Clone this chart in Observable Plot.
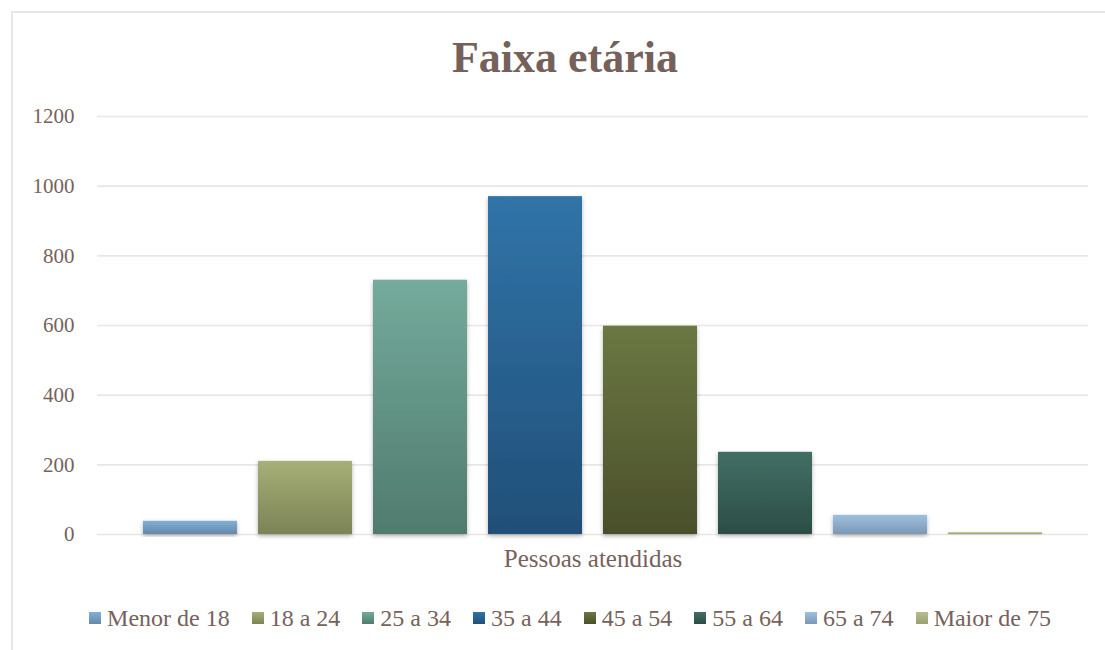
<!DOCTYPE html>
<html>
<head>
<meta charset="utf-8">
<script src="https://cdn.jsdelivr.net/npm/d3@7"></script>
<script src="https://cdn.jsdelivr.net/npm/@observablehq/plot@0.6"></script>
<style>
  html, body { margin: 0; padding: 0; background: #fff; }
  #wrap { position: relative; width: 1105px; height: 650px; overflow: hidden; }
  #frame { position: absolute; left: 11px; top: 11px; width: 1200px; height: 700px;
           border-left: 2px solid #ebe6e4; border-top: 2px solid #e6e6e6; }
  #title { position: absolute; left: 0; top: 36px; width: 1130px; text-align: center;
           font-family: "Liberation Serif", serif; font-weight: bold; font-size: 44px;
           line-height: 44px; color: #76605a; }
  #chart { position: absolute; left: 0; top: 0; }
  #legend { position: absolute; left: 0; top: 604px; width: 1140px; display: flex;
            justify-content: center; align-items: center; gap: 22px;
            font-family: "Liberation Serif", serif; font-size: 24px; color: #76625b; line-height: 28px; }
  .item { display: flex; align-items: center; gap: 6px; }
  .sw { width: 12px; height: 12px; }
</style>
</head>
<body>
<div id="wrap">
  <div id="frame"></div>
  <div id="chart"></div>
  <div id="title">Faixa etária</div>
  <div id="legend"></div>
</div>
<script>
const categories = ["Menor de 18", "18 a 24", "25 a 34", "35 a 44", "45 a 54", "55 a 64", "65 a 74", "Maior de 75"];
const values = [38, 210, 730, 970, 598, 236, 55, 5];
const groupLabel = ["Pessoas atendidas"];
const yTicks = [0, 200, 400, 600, 800, 1000, 1200];
const topColors = ["#80b0d6", "#a6af77", "#74ab9c", "#3074a8", "#6b7843", "#426f64", "#9dc0df", "#b7be8b"];
const bottomColors = ["#6688a8", "#7c8357", "#507b6e", "#214f78", "#4a4f2a", "#2c4d45", "#7c98b4", "#9aa070"];

const data = categories.map((c, i) => ({cat: c, value: values[i]}));
const textColor = "#76625b";
const serif = "'Liberation Serif', serif";

const plot = Plot.plot({
  width: 1105,
  height: 650,
  marginTop: 116,
  marginBottom: 116,
  marginLeft: 97,
  marginRight: 17,
  style: {background: "transparent", fontFamily: serif},
  x: {domain: categories, range: [132, 1054], paddingInner: 0.18, paddingOuter: 0.09, axis: null},
  y: {domain: [0, 1200], axis: null},
  color: {domain: categories, range: categories.map((_, i) => `url(#grad${i})`)},
  marks: [
    Plot.ruleY(yTicks, {stroke: "#ebe6e3", strokeWidth: 1.6}),
    Plot.axisY(yTicks, {tickSize: 0, tickPadding: 23, fontSize: 21, fill: textColor, label: null, tickFormat: d => String(d)}),
    Plot.barY(data, {x: "cat", y: "value", fill: "cat"}),
    Plot.text(groupLabel, {frameAnchor: "bottom", dy: 32, fontSize: 25, fill: textColor})
  ]
});

const svg = d3.select(plot);
svg.selectAll("text").style("font-family", serif);
const defs = svg.insert("defs", ":first-child");
categories.forEach((c, i) => {
  const g = defs.append("linearGradient").attr("id", `grad${i}`)
    .attr("x1", 0).attr("y1", 0).attr("x2", 0).attr("y2", 1);
  g.append("stop").attr("offset", "0%").attr("stop-color", topColors[i]);
  g.append("stop").attr("offset", "100%").attr("stop-color", bottomColors[i]);
});
const f = defs.append("filter").attr("id", "shadow").attr("x", "-20%").attr("y", "-20%").attr("width", "140%").attr("height", "140%");
f.append("feDropShadow").attr("dx", 0).attr("dy", 2).attr("stdDeviation", 2.2).attr("flood-color", "#000").attr("flood-opacity", 0.3);
svg.selectAll("g[aria-label=bar] rect").attr("filter", "url(#shadow)");

document.getElementById("chart").appendChild(plot);

const legend = d3.select("#legend");
categories.forEach((c, i) => {
  const it = legend.append("div").attr("class", "item");
  it.append("div").attr("class", "sw")
    .style("background", `linear-gradient(${topColors[i]}, ${bottomColors[i]})`);
  it.append("span").text(c);
});
</script>
</body>
</html>
